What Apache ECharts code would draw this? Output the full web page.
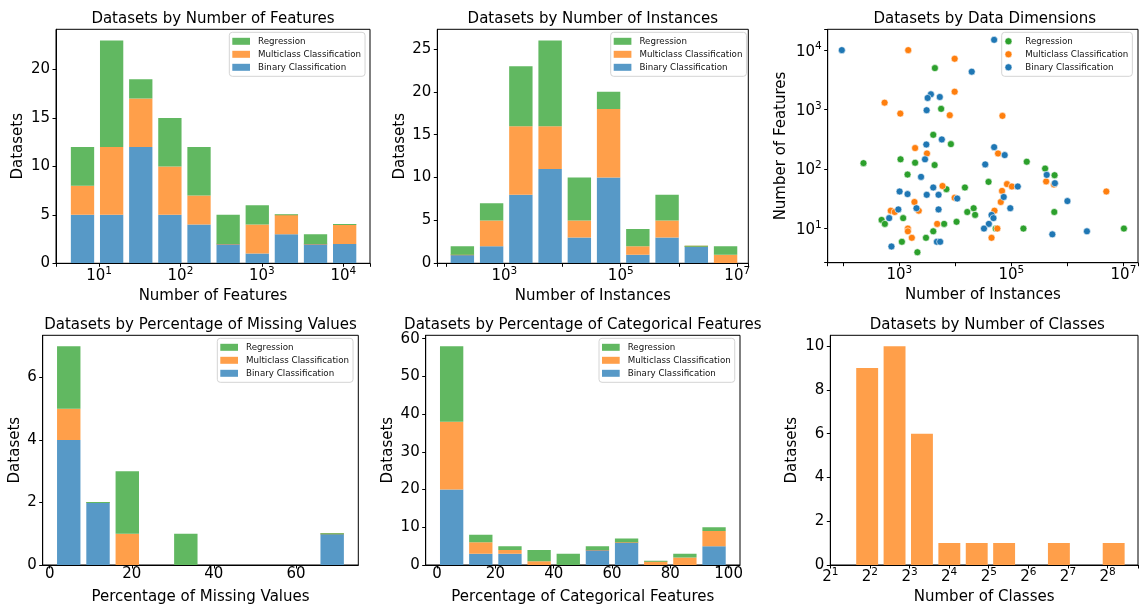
<!DOCTYPE html>
<html>
<head>
<meta charset="utf-8">
<script src="https://cdn.jsdelivr.net/npm/echarts@6/dist/echarts.min.js"></script>
<style>
html, body { margin: 0; padding: 0; background: #fff; }
#chart { width: 1141px; height: 606px; }
</style>
</head>
<body>
<div id="chart"></div>
<script>
var classNames = ['Regression', 'Multiclass Classification', 'Binary Classification'];

// Number of Features histogram, 10 log-spaced bins
var featureBinRange = [4.15, 15700];
var featureBinary = [5, 5, 12, 5, 4, 2, 1, 3, 2, 2];
var featureMulti = [3, 7, 5, 5, 3, 0, 3, 2, 0, 2];
var featureRegr = [4, 11, 2, 5, 5, 3, 2, 0, 1, 0];

// Number of Instances histogram, 10 log-spaced bins
var instanceBinRange = [107, 11250000];
var instanceBinary = [1, 2, 8, 11, 3, 10, 1, 3, 2, 0];
var instanceMulti = [0, 3, 8, 5, 2, 8, 1, 2, 0, 1];
var instanceRegr = [1, 2, 7, 10, 5, 2, 2, 3, 0, 1];

// Percentage of missing values
var missingBinRange = [1.08, 72.4];
var missingBinary = [4, 2, 0, 0, 0, 0, 0, 0, 0, 1];
var missingMulti = [1, 0, 1, 0, 0, 0, 0, 0, 0, 0];
var missingRegr = [2, 0, 2, 0, 1, 0, 0, 0, 0, 0];

// Percentage of categorical features
var categoricalBinRange = [0, 100];
var categoricalBinary = [20, 3, 3, 0, 0, 4, 6, 0, 0, 5];
var categoricalMulti = [18, 3, 1, 1, 0, 0, 0, 1, 2, 4];
var categoricalRegr = [20, 2, 1, 3, 3, 1, 1, 0, 1, 1];

// Number of classes (multiclass datasets), log2-spaced bins
var classBinRange = [3, 362];
var classCounts = [9, 10, 6, 1, 1, 1, 0, 1, 0, 1];

// [instances, features]
var dimsRegr = [
    [4310, 4990], [5570, 1030], [4030, 377], [8320, 263], [229, 126], [1050, 146], [1910, 128],
    [4260, 117], [1400, 81], [6920, 46], [482, 14], [551, 12], [1170, 15], [6300, 12], [2990, 7],
    [4030, 9], [1110, 6], [2100, 4], [188000, 133], [400000, 102], [590000, 79], [14800, 49],
    [39100, 61], [21200, 22], [16300, 19], [22500, 17], [583000, 19], [10500, 13], [52700, 10],
    [164000, 10], [10200000, 10]
];
var dimsMulti = [
    [1440, 10000], [545, 1310], [1040, 857], [7940, 805], [1910, 226], [9710, 7160], [9710, 2000],
    [69200, 785], [3110, 183], [5890, 52], [1860, 28], [703, 20], [826, 19], [2220, 20], [4730, 12],
    [1420, 10], [1420, 9], [1670, 7], [57800, 183], [417000, 62], [4950000, 42], [83400, 56],
    [102000, 51], [68100, 43], [9710, 33], [64600, 28], [49900, 20], [44200, 7], [56200, 10],
    [575000, 55]
];
var dimsBinary = [
    [94, 10000], [3660, 1810], [3200, 1570], [5270, 1630], [3070, 977], [5730, 315], [3030, 259],
    [49200, 14900], [19600, 4340], [49200, 234], [2870, 146], [2440, 74], [4030, 49], [1010, 42],
    [1400, 38], [3080, 37], [5010, 37], [959, 21], [2020, 22], [5010, 21], [658, 15], [4680, 6],
    [5350, 6], [723, 5], [75900, 172], [34100, 120], [427000, 80], [598000, 58], [130000, 51],
    [10800, 32], [73000, 34], [1000000, 29], [95500, 22], [44200, 17], [47900, 15], [39600, 12],
    [32400, 10], [538000, 8], [2230000, 9]
];

var featureTicksY = [0, 5, 10, 15, 20];
var instanceTicksY = [0, 5, 10, 15, 20, 25];
var missingTicksY = [0, 2, 4, 6];
var missingTicksX = [0, 20, 40, 60];
var categoricalTicksY = [0, 10, 20, 30, 40, 50, 60];
var categoricalTicksX = [0, 20, 40, 60, 80, 100];
var classTicksY = [0, 2, 4, 6, 8, 10];

var titles = [
    'Datasets by Number of Features', 'Datasets by Number of Instances', 'Datasets by Data Dimensions',
    'Datasets by Percentage of Missing Values', 'Datasets by Percentage of Categorical Features',
    'Datasets by Number of Classes'
];

var FONT = 'DejaVu Sans';
var histColors = ['#5799c7', '#ff9f4a', '#61b861'];   // binary, multi, regression (alpha .75)
var dotColors = ['#2ca02c', '#ff7f0e', '#1f77b4'];    // regression, multi, binary

var grids = [
    { left: 56, top: 29.3, width: 314, height: 234 },
    { left: 437.3, top: 29.3, width: 311, height: 234 },
    { left: 827.7, top: 29.3, width: 314, height: 233.4 },
    { left: 42.7, top: 335.3, width: 315.6, height: 234 },
    { left: 425.7, top: 335.3, width: 314.3, height: 234 },
    { left: 830.3, top: 335.3, width: 314, height: 234 }
];

function binEdges(range, isLog) {
    var e = [];
    for (var i = 0; i <= 10; i++) {
        if (isLog) e.push(Math.exp(Math.log(range[0]) + (Math.log(range[1]) - Math.log(range[0])) * i / 10));
        else e.push(range[0] + (range[1] - range[0]) * i / 10);
    }
    return e;
}

function histItem(params, api) {
    var p0 = api.coord([api.value(0), api.value(3)]);
    var p1 = api.coord([api.value(1), api.value(2)]);
    var h = p1[1] - p0[1];
    if (h < 1) {
        if (api.value(2) <= 0) return;
        h = 1;
        p0[1] -= 0.5;
    }
    return {
        type: 'rect',
        shape: { x: p0[0], y: p0[1], width: p1[0] - p0[0], height: h },
        style: { fill: api.visual('color') }
    };
}

function histSeries(gi, range, isLog, counts, names, colors) {
    var edges = binEdges(range, isLog);
    var base = counts[0].map(function () { return 0; });
    return counts.map(function (arr, k) {
        var data = arr.map(function (c, i) {
            var l, r;
            if (isLog) {
                var a = Math.log(edges[i]), b = Math.log(edges[i + 1]);
                l = Math.exp(a + 0.1 * (b - a));
                r = Math.exp(b - 0.1 * (b - a));
            } else {
                l = edges[i] + 0.1 * (edges[i + 1] - edges[i]);
                r = edges[i + 1] - 0.1 * (edges[i + 1] - edges[i]);
            }
            var item = [l, r, base[i], base[i] + c];
            base[i] += c;
            return item;
        });
        return {
            type: 'custom', name: names[k], xAxisIndex: gi, yAxisIndex: gi,
            renderItem: histItem, encode: { x: [0, 1], y: [2, 3] },
            itemStyle: { color: colors[k] }, data: data, clip: true, z: 2
        };
    });
}

var tickStyle = { show: true, length: 3.5, lineStyle: { color: '#000', width: 1 } };
var lineStyle = { show: true, onZero: false, lineStyle: { color: '#000', width: 1 } };

function valueAxis(gi, min, max, ticks, name, gap, isY) {
    return {
        type: 'value', gridIndex: gi, min: min, max: max,
        name: name, nameLocation: 'middle', nameGap: gap,
        nameTextStyle: { fontSize: 15, color: '#000', fontFamily: FONT },
        axisLine: lineStyle, splitLine: { show: false }, z: 10,
        axisTick: { show: true, length: 3.5, lineStyle: { color: '#000' }, customValues: ticks },
        axisLabel: { fontSize: 15, color: '#000', fontFamily: FONT, margin: isY ? 6 : 2, customValues: ticks }
    };
}

function logAxis(gi, min, max, base, oddOnly, name, gap, isY) {
    return {
        type: 'log', logBase: base, gridIndex: gi, min: min, max: max,
        name: name, nameLocation: 'middle', nameGap: gap,
        nameTextStyle: { fontSize: 15, color: '#000', fontFamily: FONT },
        axisLine: lineStyle, splitLine: { show: false }, minorTick: { show: false }, z: 10,
        axisTick: tickStyle,
        axisLabel: {
            margin: isY ? 6 : 2,
            formatter: function (v) {
                var e = Math.log(v) / Math.log(base);
                var r = Math.round(e);
                if (Math.abs(e - r) > 1e-6) return '';
                if (oddOnly && Math.abs(r % 2) !== 1) return '';
                return '{b|' + base + '}{s|' + r + '}';
            },
            rich: {
                b: { fontSize: 15, color: '#000', fontFamily: FONT, lineHeight: 18, verticalAlign: 'bottom' },
                s: { fontSize: 10.5, color: '#000', fontFamily: FONT, verticalAlign: 'top' }
            }
        }
    };
}

function legendAt(left, top, icon, colors) {
    return {
        left: left, top: top, orient: 'vertical', selectedMode: false,
        itemWidth: 17.7, itemHeight: 7, itemGap: 3, padding: [4, 4, 4, 3],
        backgroundColor: 'rgba(255,255,255,0.8)', borderColor: '#d4d4d4', borderWidth: 1, borderRadius: 3,
        textStyle: { fontSize: 8.7, color: '#111', fontFamily: FONT, lineHeight: 10, padding: [0, 0, 0, 3] },
        data: classNames.map(function (n, i) {
            var st = { color: colors[i] };
            if (icon === 'circle') { st.borderColor = '#fff'; st.borderWidth = 0.5; }
            return { name: n, icon: icon, itemStyle: st };
        })
    };
}

var histLegendColors = [histColors[2], histColors[1], histColors[0]];

var series = [].concat(
    histSeries(0, featureBinRange, true, [featureBinary, featureMulti, featureRegr], classNames.slice().reverse(), histColors),
    histSeries(1, instanceBinRange, true, [instanceBinary, instanceMulti, instanceRegr], classNames.slice().reverse(), histColors),
    histSeries(3, missingBinRange, false, [missingBinary, missingMulti, missingRegr], classNames.slice().reverse(), histColors),
    histSeries(4, categoricalBinRange, false, [categoricalBinary, categoricalMulti, categoricalRegr], classNames.slice().reverse(), histColors),
    histSeries(5, classBinRange, true, [classCounts], ['Number of Classes'], [histColors[1]])
);
[dimsRegr, dimsMulti, dimsBinary].forEach(function (d, k) {
    series.push({
        type: 'scatter', name: classNames[k], xAxisIndex: 2, yAxisIndex: 2,
        symbolSize: 7, data: d, z: 3,
        itemStyle: { color: dotColors[k], borderColor: '#fff', borderWidth: 0.6, opacity: 1 }
    });
});

var chart = echarts.init(document.getElementById('chart'));
chart.setOption({
    animation: false,
    backgroundColor: '#fff',
    textStyle: { fontFamily: FONT },
    title: grids.map(function (g, i) {
        return {
            text: titles[i], left: g.left + g.width / 2, top: i < 3 ? 12 : 318,
            textAlign: 'center', padding: 0,
            textStyle: { fontSize: 15, fontWeight: 'normal', color: '#000', fontFamily: FONT }
        };
    }),
    grid: grids.map(function (g) {
        return { left: g.left, top: g.top, width: g.width, height: g.height, show: true,
                 borderColor: '#000', borderWidth: 1, backgroundColor: 'transparent', containLabel: false };
    }),
    legend: [
        legendAt(229.3, 32.3, 'rect', histLegendColors),
        legendAt(610.7, 32.3, 'rect', histLegendColors),
        legendAt(1001.7, 32.3, 'circle', dotColors),
        legendAt(217.3, 338.3, 'rect', histLegendColors),
        legendAt(599, 338.3, 'rect', histLegendColors)
    ],
    xAxis: [
        logAxis(0, 2.96, 21300, 10, false, 'Number of Features', 25, false),
        logAxis(1, 70.8, 15500000, 10, true, 'Number of Instances', 25, false),
        logAxis(2, 52.6, 18200000, 10, true, 'Number of Instances', 25, false),
        valueAxis(3, -1.7, 75.2, missingTicksX, 'Percentage of Missing Values', 25, false),
        valueAxis(4, -3.9, 103.9, categoricalTicksX, 'Percentage of Categorical Features', 25, false),
        logAxis(5, 2, 436, 2, false, 'Number of Classes', 25, false)
    ],
    yAxis: [
        valueAxis(0, 0, 24.15, featureTicksY, 'Datasets', 30.5, true),
        valueAxis(1, 0, 27.3, instanceTicksY, 'Datasets', 29.8, true),
        logAxis(2, 2.67, 22400, 10, false, 'Number of Features', 39, true),
        valueAxis(3, 0, 7.35, missingTicksY, 'Datasets', 19.7, true),
        valueAxis(4, 0, 60.9, categoricalTicksY, 'Datasets', 30.5, true),
        valueAxis(5, 0, 10.5, classTicksY, 'Datasets', 30.3, true)
    ],
    series: series
});
</script>
</body>
</html>
